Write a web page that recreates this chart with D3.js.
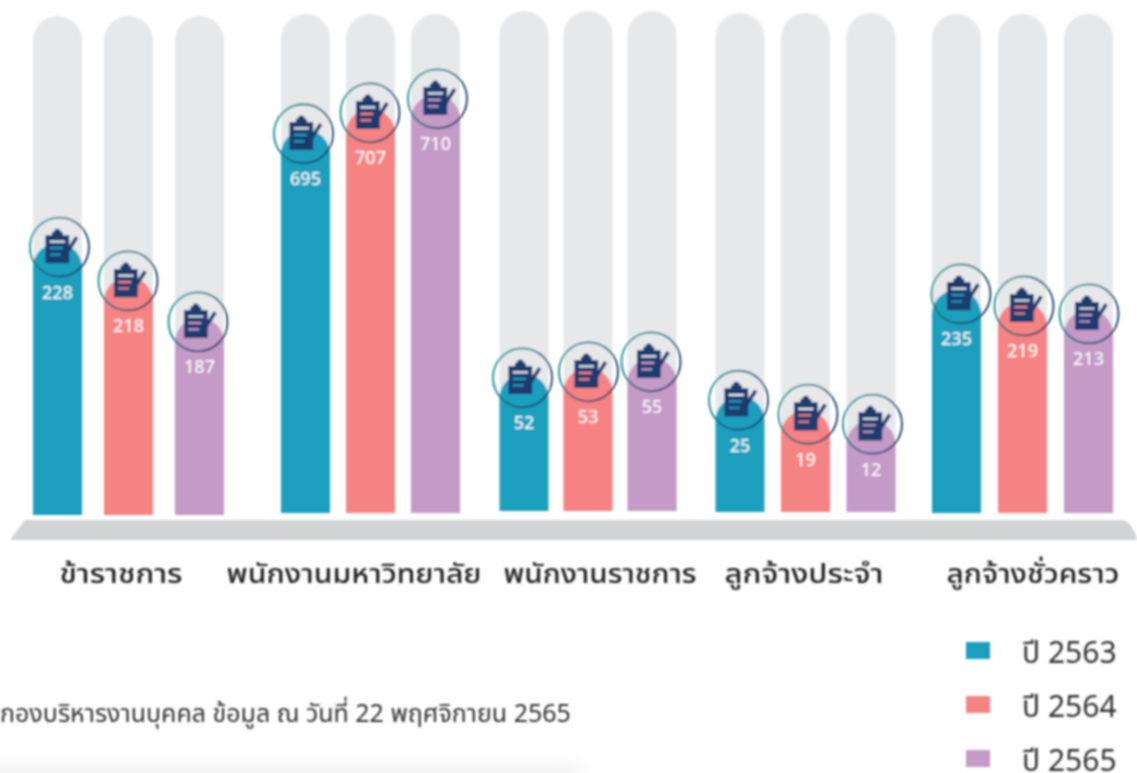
<!DOCTYPE html>
<html><head><meta charset="utf-8">
<script src="https://cdn.jsdelivr.net/npm/d3@7/dist/d3.min.js"></script>
<style>html,body{margin:0;padding:0;background:#fff;overflow:hidden}svg{display:block}
text{font-family:"Noto Sans","Noto Sans Thai","Loma","Garuda",sans-serif}</style></head>
<body><svg id="c" width="1137" height="773"></svg>
<script>
const categories = ["ข้าราชการ","พนักงานมหาวิทยาลัย","พนักงานราชการ","ลูกจ้างประจำ","ลูกจ้างชั่วคราว"];
const years = ["ปี 2563","ปี 2564","ปี 2565"];
const values2563 = [228,695,52,25,235];
const values2564 = [218,707,53,19,219];
const values2565 = [187,710,55,12,213];
// The infographic's fills are not proportional to the numbers: drawn fill level, % of track
const fill2563 = [54.1,76.8,27.9,23.4,44.7];
const fill2564 = [47.3,81.0,29.1,20.6,42.3];
const fill2565 = [39.1,83.8,31.1,18.6,40.7];
const colors = ["#1f9fbd","#f58383","#c49ac6"];
const source = "กองบริหารงานบุคคล ข้อมูล ณ วันที่ 22 พฤศจิกายน 2565";

// layout (hand-placed in the original)
const groupCentre = d3.scaleOrdinal(categories,[128.5,370.5,588,805.5,1022.5]);
const groupStep = d3.scaleOrdinal(categories,[71,65,64,65.5,66]);
const labelCentre = d3.scaleOrdinal(categories,[121,354,600,804,1033]);
const labelWidth = d3.scaleOrdinal(categories,[123,255,193,159,173]);
const baseShift = d3.scaleOrdinal(categories,[2,0,-2,-1,0]);
const topShift = d3.scaleOrdinal(categories,[2,0,-3,-1,0]);
const badgeNudge = d3.scaleOrdinal(categories,[[2,-0.5,-1.5],[-2,-0.5,2],[-1.5,0.5,-1],[-1.5,2.5,1.5],[4.5,1.5,0.5]]);
const inner = d3.scaleLinear([0,2],[-1,1]);
const y = d3.scaleLinear([0,100],[513,14]);
const barW = 49;

const svg = d3.select("#c");
const defs = svg.append("defs");
const blur = defs.append("filter").attr("id","soft").attr("filterUnits","userSpaceOnUse")
  .attr("x",0).attr("y",0).attr("width",1137).attr("height",773);
blur.append("feGaussianBlur").attr("stdDeviation",0.8);
const wide = defs.append("filter").attr("id","wide").attr("filterUnits","userSpaceOnUse")
  .attr("x",-50).attr("y",700).attr("width",800).attr("height",120);
wide.append("feGaussianBlur").attr("stdDeviation",10);
const grad = defs.append("linearGradient").attr("id","ring").attr("x1","0").attr("x2","1").attr("y1","0.2").attr("y2","0.8");
grad.append("stop").attr("offset","0").attr("stop-color","#159a96");
grad.append("stop").attr("offset","1").attr("stop-color","#1a2f66");

const icon = defs.append("g").attr("id","clip").attr("transform","scale(1.08)");
icon.append("path").attr("fill","#1f3a6e").attr("fill-rule","evenodd")
  .attr("d","M-13,-11H-7V-14H-5A3,3 0 0 1 1,-14H3V-11H9V15H-13ZM-9,-6V-4H5V-6ZM-9,0V2H3V0ZM-9,6V8H1V6Z");
icon.append("path").attr("fill","none").attr("stroke","#1f3a6e").attr("stroke-width",3.4).attr("d","M3,11L16,-9");

svg.append("rect").attr("x",-40).attr("y",766).attr("width",620).attr("height",40).attr("fill","#f1f1f1").attr("filter","url(#wide)");
const root = svg.append("g").attr("filter","url(#soft)");

const rows = categories.flatMap((c,i)=>[
  {c,s:0,v:values2563[i],f:fill2563[i]},
  {c,s:1,v:values2564[i],f:fill2564[i]},
  {c,s:2,v:values2565[i],f:fill2565[i]}]);
const cx = d => groupCentre(d.c)+inner(d.s)*groupStep(d.c);

const roundTop = (x,top,bottom,w) => {
  const p = d3.path(), r = w/2;
  p.moveTo(x-r,bottom); p.lineTo(x-r,top+r);
  p.arc(x,top+r,r,Math.PI,0); p.lineTo(x+r,bottom); p.closePath();
  return p.toString();
};

root.append("g").selectAll("path").data(rows).join("path")
  .attr("fill","#e7e8ea").attr("d",d=>roundTop(cx(d),y(100)+topShift(d.c),y(0)+baseShift(d.c),barW));
root.append("g").selectAll("path").data(rows).join("path")
  .attr("fill",d=>colors[d.s]).attr("d",d=>roundTop(cx(d),y(d.f),y(0)+baseShift(d.c),barW));

const plat = d3.path();
plat.moveTo(10,540); plat.lineTo(25,520); plat.lineTo(1122,520);
plat.quadraticCurveTo(1131,521,1137,538); plat.lineTo(1137,540); plat.closePath();
root.append("path").attr("d",plat.toString()).attr("fill","#d1d3d4");

const badge = root.append("g").selectAll("g").data(rows).join("g")
  .attr("transform",d=>`translate(${cx(d)+badgeNudge(d.c)[d.s]},${y(d.f)+4})`);
badge.append("circle").attr("r",29.5).attr("fill","none")
  .attr("stroke","url(#ring)").attr("stroke-width",1.8);
badge.append("use").attr("href","#clip");

root.append("g").selectAll("text").data(rows).join("text")
  .attr("x",cx).attr("y",d=>y(d.f)+55.5).attr("text-anchor","middle")
  .attr("fill","#fff").attr("fill-opacity",0.92).attr("font-size",18).attr("font-weight",500).text(d=>d.v);

root.append("g").selectAll("text").data(categories).join("text")
  .attr("x",d=>labelCentre(d)).attr("y",583).attr("text-anchor","middle")
  .attr("fill","#222").attr("font-size",27).attr("font-weight",500)
  .attr("textLength",d=>labelWidth(d)).attr("lengthAdjust","spacingAndGlyphs").text(d=>d);

const ly = d3.scalePoint(years,[650,758]);
const leg = root.append("g").selectAll("g").data(years).join("g").attr("transform",d=>`translate(0,${ly(d)})`);
leg.append("rect").attr("x",966).attr("y",-8).attr("width",24).attr("height",17).attr("fill",(d,i)=>colors[i]);
leg.append("text").attr("x",1022).attr("y",12.5).attr("fill","#333").attr("font-size",30).text(d=>d);

root.append("text").attr("x",0).attr("y",722).attr("fill","#333").attr("font-size",25).text(source);
</script></body></html>
